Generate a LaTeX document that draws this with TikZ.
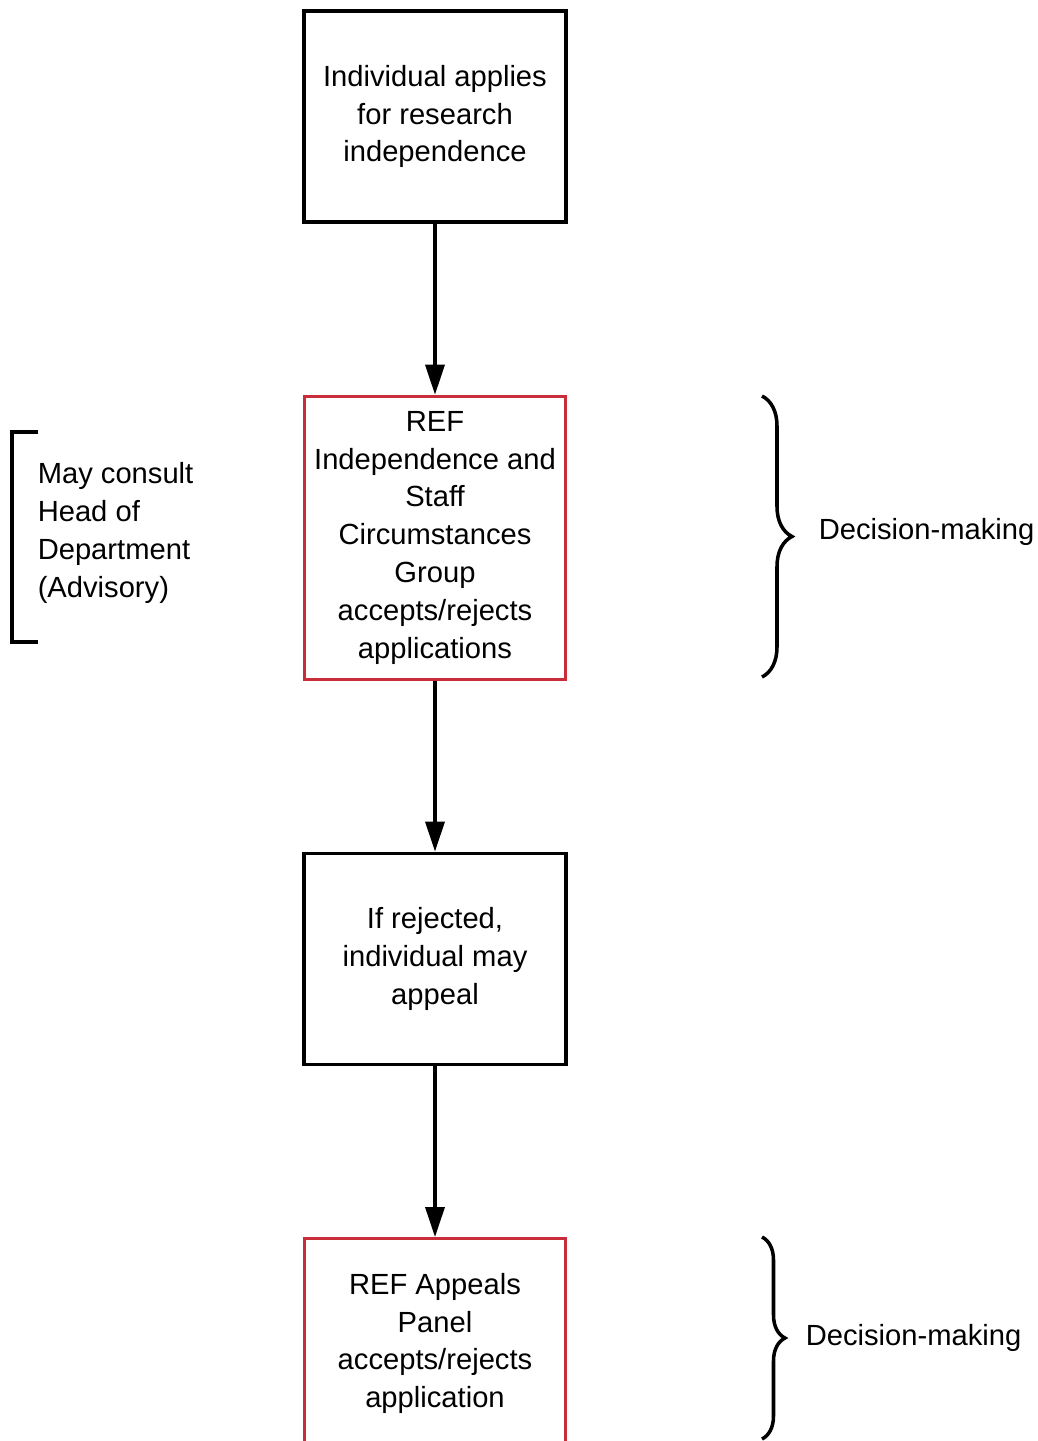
\documentclass[tikz,border=0pt]{standalone}
\usepackage{fontspec}
\setmainfont{Liberation Sans}
\usepackage{xcolor}
\usetikzlibrary{positioning,arrows.meta,decorations.pathreplacing}
\definecolor{boxred}{RGB}{201,45,57}

\begin{document}
\begin{tikzpicture}[-,>={Triangle[length=0.6cm,width=0.38cm]},x=0.02cm,y=-0.02cm,line width=2pt,node distance=3.42cm,
    main node/.style={rectangle,draw,line width=2pt,minimum width=5.24cm,minimum height=4.22cm,align=center,inner sep=2pt,font=\fontsize{16.6}{21.5}\selectfont},
    red node/.style={main node,draw=boxred,line width=1.7pt},
    side note/.style={align=left,inner sep=0pt,font=\fontsize{16.6}{21.5}\selectfont}]
            \useasboundingbox (0,0) rectangle (1038,1441);
            \clip (0,0) rectangle (1038,1441);

            \node[main node] (1) at (435,116.5) {Individual applies\\for research\\independence};
            \node[red node] (2) [below = of 1, minimum height=5.66cm] {REF\\Independence and\\Staff\\Circumstances\\Group\\accepts/rejects\\applications};
            \node[main node] (3) [below = of 2] {If rejected,\\individual may\\appeal};
            \node[red node] (4) [below = of 3, minimum height=4.2cm] {REF Appeals\\Panel\\accepts/rejects\\application};

            \path[->,line width=2pt]
                (1) edge (2)
                (2) edge (3)
                (3) edge (4)
            ;

            % advisory bracket
            \coordinate (bt) at (38,432);
            \coordinate (bb) at (38,642);
            \draw (bt) -- ++(-26,0) |- (bb);
            \node[side note, anchor=west] (hod) at (36,533) {May consult\\Head of\\Department\\(Advisory)};

            % decision braces
            \coordinate (d1t) at (762,396);
            \coordinate (d1b) at (762,677);
            \draw[decorate,decoration={brace,amplitude=0.6cm}] (d1t) -- (d1b);
            \node[side note, anchor=west] (dm1) at (817,532) {Decision-making};

            \coordinate (d2t) at (762,1237);
            \coordinate (d2b) at (762,1439);
            \draw[decorate,decoration={brace,amplitude=0.46cm}] (d2t) -- (d2b);
            \node[side note, anchor=west] (dm2) at (804,1338) {Decision-making};
        \end{tikzpicture}
\end{document}
